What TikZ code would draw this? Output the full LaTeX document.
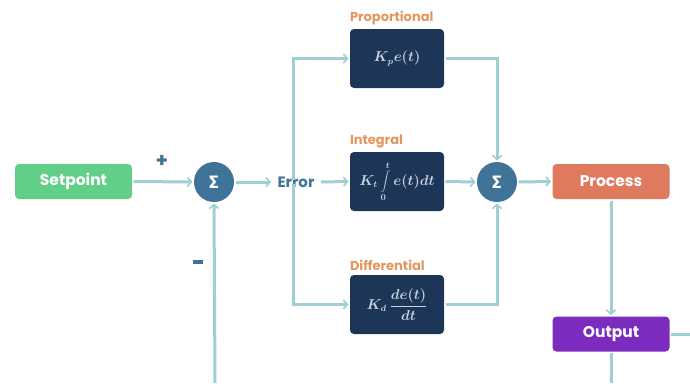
\documentclass[tikz,border=0pt]{standalone}
\usepackage{fontspec}
\setsansfont{Poppins}
\newfontfamily\greekfont{Fira Sans}
\usetikzlibrary{arrows.meta}
\definecolor{wire}{HTML}{9FCFD3}
\definecolor{setgreen}{HTML}{62CF88}
\definecolor{sumblue}{HTML}{3F7397}
\definecolor{navy}{HTML}{1D3557}
\definecolor{procorange}{HTML}{E07A5F}
\definecolor{outpurple}{HTML}{7B2CBF}
\definecolor{tagorange}{HTML}{E3975F}
\definecolor{mathgrey}{HTML}{C9D2E0}
\begin{document}
\begin{tikzpicture}[x=1pt,y=-1pt,every node/.style={font=\sffamily\bfseries},>={Straight Barb[length=4pt,width=9pt,line width=1.6pt]},line width=3pt]
\tikzset{flowbox/.style={rounded corners=4pt,minimum width=117pt,minimum height=35pt,text=white,font=\sffamily\bfseries\fontsize{15.5}{17}\selectfont},
  pidbox/.style={fill=navy,rounded corners=4pt,minimum width=94pt,minimum height=59pt,text=mathgrey,font=\fontsize{13.5}{15}\selectfont\boldmath},
  sumnode/.style={circle,fill=sumblue,minimum size=40pt,inner sep=0pt,text=white,font=\greekfont\bfseries\fontsize{18}{20}\selectfont},
  tag/.style={text=tagorange,font=\sffamily\bfseries\fontsize{13}{15}\selectfont,inner sep=0pt},
  sign/.style={text=sumblue,font=\sffamily\bfseries\fontsize{20}{22}\selectfont,inner sep=0pt},
  wire/.style={draw=wire}}
\useasboundingbox (0,0) rectangle (690,383);
\node[flowbox,fill=setgreen] (setpoint) at (73.5,181.5) {Setpoint};
\node[sumnode] (sumerr) at (214,182) {Σ};
\node[text=sumblue,font=\sffamily\bfseries\fontsize{15}{17}\selectfont,inner sep=0pt] (error) at (296,182) {Error};
\node[pidbox] (prop) at (397,58.5) {$K_p e(t)$};
\node[pidbox] (integ) at (397,181.5) {$K_t\displaystyle\int\limits_0^t e(t)dt$};
\node[pidbox] (diff) at (397,304.5) {$K_d\,\displaystyle\frac{de(t)}{dt}$};
\node[tag,anchor=south west] at (prop.north west) [yshift=1pt] {Proportional};
\node[tag,anchor=south west] at (integ.north west) [yshift=1pt] {Integral};
\node[tag,anchor=south west] at (diff.north west) [yshift=1pt] {Differential};
\node[sumnode] (sumpid) at (497,182) {Σ};
\node[flowbox,fill=procorange] (process) at (611,181.5) {Process};
\node[flowbox,fill=outpurple] (output) at (611,334) {Output};
\node[sign] (plus) at (162,161) {+};
\node[sign] (minus) at (198,262) {\rule{10pt}{3.5pt}};
% error path
\draw[wire,->] (setpoint.east) -- (sumerr.west);
\draw[wire,->] (sumerr.east) -- ([xshift=-5pt]error.west);
\coordinate (fbin) at (215,383);
\draw[wire,->] (fbin) -- (sumerr.south);
% branches to the three terms
\coordinate (splitx) at (293,0);
\draw[wire,->] ([yshift=-5pt]error.north -| splitx) -- (splitx |- prop.west) -- (prop.west);
\draw[wire,->] ([yshift=5pt]error.south -| splitx) -- (splitx |- diff.west) -- (diff.west);
\draw[wire,->] ([xshift=5pt]error.east) -- (integ.west);
% sum of the terms
\draw[wire,->] (prop.east) -| (sumpid.north);
\draw[wire,->] (diff.east) -| (sumpid.south);
\draw[wire,->] (integ.east) -- (sumpid.west);
\draw[wire,->] (sumpid.east) -- (process.west);
\draw[wire,->] (process.south) -- (output.north);
\coordinate (outright) at (690,334);
\coordinate (outdown) at (611,383);
\draw[wire] (output.east) -- (outright);
\draw[wire] (output.south) -- (outdown);
\end{tikzpicture}
\end{document}
